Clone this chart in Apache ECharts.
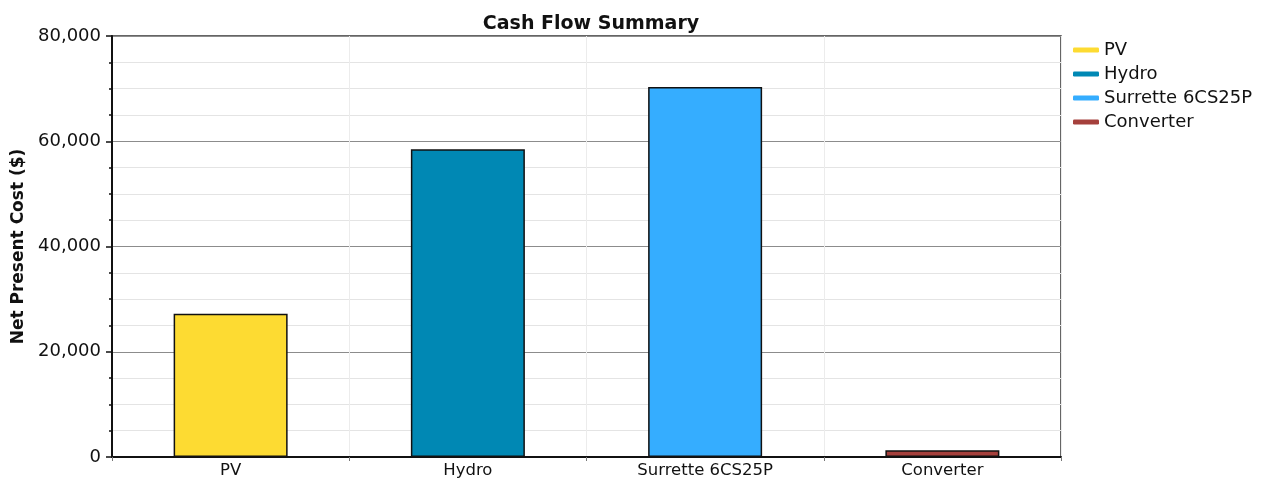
<!DOCTYPE html>
<html>
<head>
<meta charset="utf-8">
<script src="https://cdn.jsdelivr.net/npm/echarts@6/dist/echarts.min.js"></script>
<style>
  html, body { margin: 0; padding: 0; background: #fff; }
  #chart { width: 1266px; height: 485px; }
</style>
</head>
<body>
<div id="chart"></div>
<script>
const categories = ['PV', 'Hydro', 'Surrette 6CS25P', 'Converter'];
const netPresentCost = [27200, 58500, 70300, 1300];
const yTicks = [0, 20000, 40000, 60000, 80000];

const palette = ['#FDDB32', '#0088B4', '#35ADFF', '#A5403C'];
const font = 'DejaVu Sans';

const chart = echarts.init(document.getElementById('chart'));

// one series per component so the legend lists them; stacked so each bar stays centred
const series = categories.map((name, i) => ({
  name: name,
  type: 'bar',
  stack: 'npc',
  barWidth: 114,
  data: categories.map((c, j) => (j === i ? netPresentCost[i] : '-')),
  itemStyle: {
    color: palette[i],
    borderColor: '#111',
    borderWidth: 1.5
  }
}));

const option = {
  animation: false,
  title: {
    text: 'Cash Flow Summary',
    left: 586,
    textAlign: 'center',
    top: 10,
    textStyle: { fontFamily: font, fontSize: 19, fontWeight: 'bold', color: '#111' }
  },
  legend: {
    orient: 'vertical',
    left: 1068,
    top: 36,
    itemGap: 6,
    itemWidth: 26,
    itemHeight: 5,
    icon: 'roundRect',
    itemStyle: { borderWidth: 0 },
    data: categories,
    textStyle: { fontFamily: font, fontSize: 18, color: '#111' }
  },
  grid: {
    left: 112,
    right: 205,
    top: 36,
    bottom: 28,
    outerBoundsMode: 'none',
    show: true,
    borderColor: '#333',
    borderWidth: 1.5
  },
  xAxis: {
    type: 'category',
    data: categories,
    axisLine: { lineStyle: { color: '#111', width: 2 } },
    axisTick: { show: true, length: 4, lineStyle: { color: '#777' } },
    axisLabel: { fontFamily: font, fontSize: 16.5, color: '#111', margin: 5 },
    splitLine: { show: true, lineStyle: { color: '#ececec', width: 1 } }
  },
  yAxis: {
    type: 'value',
    min: yTicks[0],
    max: yTicks[yTicks.length - 1],
    interval: yTicks[1] - yTicks[0],
    name: 'Net Present Cost ($)',
    nameLocation: 'middle',
    nameRotate: 90,
    nameGap: 84,
    nameTextStyle: { fontFamily: font, fontSize: 17, fontWeight: 'bold', color: '#111' },
    axisLine: { show: true, lineStyle: { color: '#111', width: 2 } },
    axisTick: { show: true, length: 6, lineStyle: { color: '#111', width: 1.5 } },
    minorTick: { show: true, splitNumber: 4, length: 3, lineStyle: { color: '#111', width: 1.5 } },
    axisLabel: {
      fontFamily: font,
      fontSize: 18,
      color: '#111',
      margin: 11,
      formatter: v => v.toLocaleString('en-US')
    },
    splitLine: { show: true, lineStyle: { color: '#8c8c8c', width: 1 } },
    minorSplitLine: { show: true, lineStyle: { color: '#e4e4e4', width: 1 } }
  },
  series: series
};

chart.setOption(option);
</script>
</body>
</html>
